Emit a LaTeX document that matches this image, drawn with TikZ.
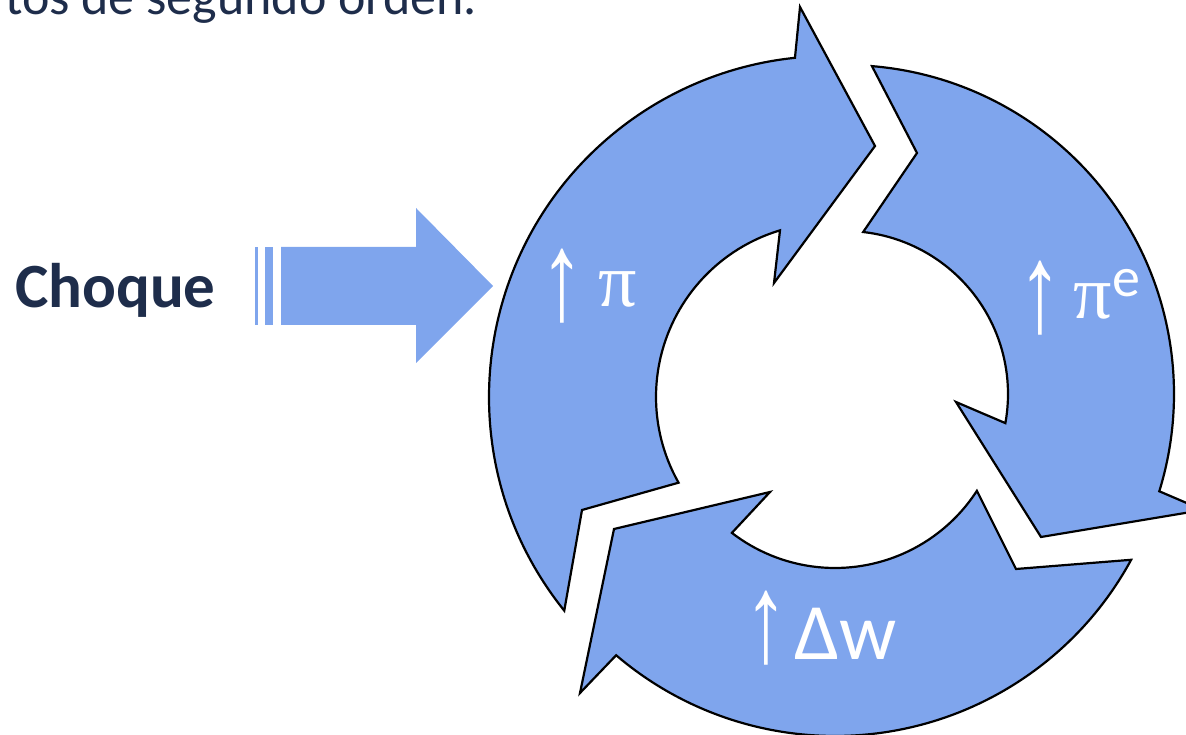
\documentclass[tikz,border=0pt]{standalone}
\usepackage{fontspec}
\setmainfont{Carlito}
\newfontfamily\arrowfont{Liberation Sans}
\newfontfamily\greekfont{Liberation Serif}
\usetikzlibrary{calc}
\definecolor{segblue}{RGB}{127,165,237}
\definecolor{navy}{RGB}{30,45,75}
\newcommand{\uparr}[1]{\raisebox{#1}{\scalebox{1.15}[1.65]{\arrowfont ↑}}}
\tikzset{
  seg/.style={fill=segblue, draw=black, line width=2.2pt, line join=miter},
  shock/.style={fill=segblue, draw=none},
  lbl/.style={text=white, inner sep=0pt, font=\fontsize{76}{76}\selectfont},
  title/.style={text=navy, inner sep=0pt, anchor=base west}
}
\begin{document}
\begin{tikzpicture}[x=1pt,y=1pt]
\useasboundingbox (0,0) rectangle (1186,734);
\coordinate (C1) at (830,337);
\coordinate (C2) at (845,340);
\coordinate (C3) at (835,335);
% top cut text
\node[title, font=\fontsize{52}{52}\selectfont] (top) at (5,719) {tos de segundo orden.};
% segment 1 (left)
\draw[seg] ($(C1)+(218.8:341)$) arc[start angle=218.8, end angle=95.9, radius=341]
  -- (800,727) -- (875,588) -- (774,451)
  -- ($(C1)+(106.7:174)$) arc[start angle=106.7, end angle=209.5, radius=174]
  -- (582,224) -- cycle;
% segment 2 (right)
\draw[seg] ($(C2)+(85.3:329)$) arc[start angle=85.3, end angle=-17.2, radius=329]
  -- (1203,224) -- (1041,197) -- (956,332)
  -- ($(C2)+(-10.3:163)$) arc[start angle=-10.3, end angle=83.6, radius=163]
  -- (917,581) -- cycle;
% segment 3 (bottom)
\draw[seg] ($(C3)+(-28.5:337)$) arc[start angle=-28.5, end angle=-130.5, radius=337]
  -- (580,41) -- (614,205) -- (770,242)
  -- ($(C3)+(-127.6:169)$) arc[start angle=-127.6, end angle=-32.9, radius=169]
  -- (1016,165) -- cycle;
% shock arrow
\fill[shock] (255,409) rectangle (258,487);
\fill[shock] (265,409) rectangle (273,487);
\fill[shock] (281,409) -- (416,409) -- (416,371) -- (493,448) -- (416,526) -- (416,487) -- (281,487) -- cycle;
\node[title, font=\fontsize{63}{63}\selectfont\bfseries] (choque) at (15,426) {Choque};
% labels
\node[lbl] (l1) at (589,448) {\uparr{-13pt}\hspace{14pt}{\greekfont π}};
\node[lbl] (l2) at (1079,436) {\uparr{-13pt}\hspace{12pt}{\greekfont π}\raisebox{22pt}{\fontsize{56}{56}\selectfont e}};
\node[lbl] (l3) at (821,106) {\uparr{-2pt}\hspace{6pt}{\fontsize{80}{80}\selectfont Δw}};
\end{tikzpicture}
\end{document}
